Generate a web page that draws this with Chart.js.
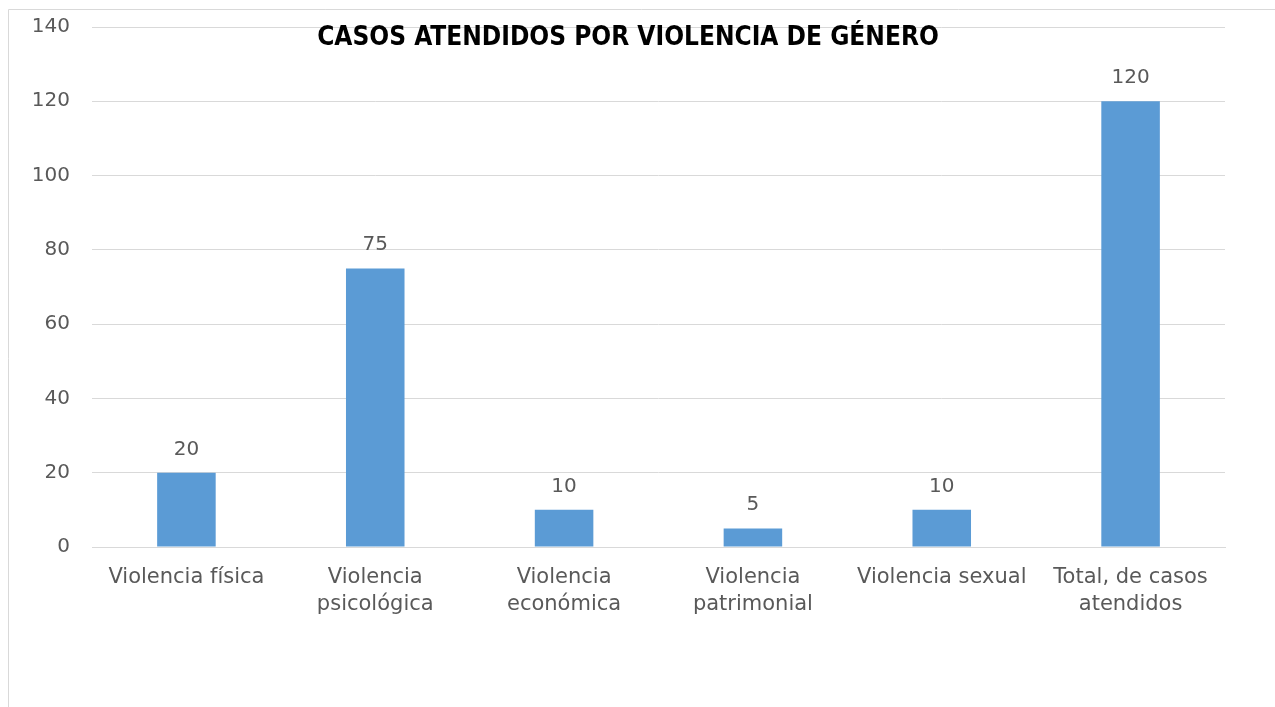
<!DOCTYPE html>
<html><head><meta charset="utf-8">
<script src="https://cdn.jsdelivr.net/npm/chart.js@4/dist/chart.umd.min.js"></script>
<style>html,body{margin:0;padding:0;background:#fff;overflow:hidden}#wrap{width:1275px;height:707px;position:relative}</style>
</head><body><div id="wrap"><canvas id="c" width="1275" height="707"></canvas></div>
<script>
const TITLE = "CASOS ATENDIDOS POR VIOLENCIA DE GÉNERO";
const categories = [["Violencia física"],["Violencia","psicológica"],["Violencia","económica"],["Violencia","patrimonial"],["Violencia sexual"],["Total, de casos","atendidos"]];
const values = [20, 75, 10, 5, 10, 120];
const yTicks = [0, 20, 40, 60, 80, 100, 120, 140];

const FONT = "'DejaVu Sans', sans-serif";
const TXT = "#595959";

const deco = {
  id: 'deco',
  beforeDraw(chart) {
    const ctx = chart.ctx;
    ctx.save();
    ctx.strokeStyle = '#d9d9d9';
    ctx.lineWidth = 1;
    ctx.beginPath();
    ctx.moveTo(8.5, 707); ctx.lineTo(8.5, 9.5); ctx.lineTo(1275, 9.5);
    ctx.stroke();
    ctx.restore();
  },
  afterDatasetsDraw(chart) {
    const ctx = chart.ctx;
    ctx.save();
    ctx.fillStyle = TXT;
    ctx.font = "20px " + FONT;
    ctx.textAlign = 'center';
    ctx.textBaseline = 'alphabetic';
    chart.getDatasetMeta(0).data.forEach((bar, i) => {
      ctx.fillText(String(values[i]), bar.x, bar.y - 18);
    });
    ctx.fillStyle = '#000';
    ctx.font = "bold 26px 'DejaVu Sans Condensed', " + FONT;
    ctx.fillText(TITLE, 628, 45);
    ctx.restore();
  }
};

new Chart(document.getElementById('c'), {
  type: 'bar',
  data: {
    labels: categories,
    datasets: [{ data: values, backgroundColor: '#5b9bd5', categoryPercentage: 1, barPercentage: 0.31 }]
  },
  options: {
    responsive: false,
    animation: false,
    devicePixelRatio: 1,
    layout: { padding: { top: 27, right: 50, left: 0, bottom: 0 } },
    plugins: { legend: { display: false }, tooltip: { enabled: false }, title: { display: false } },
    scales: {
      x: {
        grid: { display: false, drawTicks: false },
        border: { display: true, color: '#d9d9d9', width: 1 },
        ticks: { color: TXT, font: { family: FONT, size: 21, lineHeight: 1.3 }, padding: 17, maxRotation: 0, autoSkip: false },
        afterFit(s) { s.height = 160; s.paddingLeft = 0; s.paddingRight = 0; }
      },
      y: {
        min: 0, max: 140,
        afterBuildTicks(s) { s.ticks = yTicks.map(v => ({ value: v })); },
        grid: { color: '#d9d9d9', lineWidth: 1, drawTicks: false },
        border: { display: false },
        ticks: { color: TXT, font: { family: FONT, size: 20 }, padding: 22 },
        afterFit(s) { s.width = 92; s.paddingTop = 0; s.paddingBottom = 0; }
      }
    }
  },
  plugins: [deco]
});
</script></body></html>
